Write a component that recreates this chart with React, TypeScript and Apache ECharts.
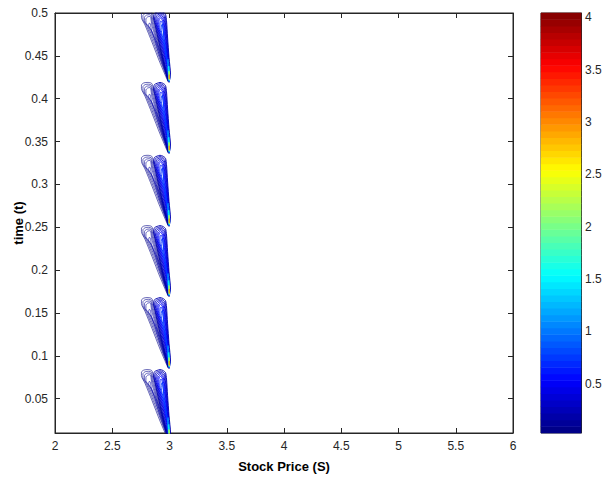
import React, { useEffect, useRef } from "react";
import * as echarts from "echarts";

// ---- data ----
const yTicks = [0.05, 0.1, 0.15, 0.2, 0.25, 0.3, 0.35, 0.4, 0.45, 0.5];
const cbTicks = [0.5, 1, 1.5, 2, 2.5, 3, 3.5, 4];
const cbMin = 0.03;
const cbMax = 4.04;

// time of the lower tip of each repeated contour block
const blockTips = [0.001, 0.085, 0.169, 0.251, 0.336, 0.419];

// contour loops of one block: [S, time above the block's tip]
const leftLevels = [0.06, 0.09, 0.12, 0.15, 0.18];
const leftLoops: number[][][] = [
  [[2.987, 0.001], [2.917, 0.023], [2.847, 0.047], [2.786, 0.067], [2.755, 0.076], [2.755, 0.08], [2.777, 0.0825], [2.812, 0.083], [2.843, 0.082], [2.856, 0.078], [2.865, 0.072], [2.891, 0.056], [2.926, 0.037], [2.961, 0.018], [2.987, 0.001]],
  [[2.987, 0.002], [2.925, 0.024], [2.858, 0.047], [2.799, 0.066], [2.768, 0.074], [2.768, 0.078], [2.788, 0.0805], [2.818, 0.081], [2.84, 0.08], [2.85, 0.076], [2.859, 0.07], [2.886, 0.055], [2.922, 0.036], [2.958, 0.018], [2.987, 0.002]],
  [[2.987, 0.003], [2.932, 0.025], [2.869, 0.047], [2.812, 0.065], [2.781, 0.072], [2.781, 0.076], [2.799, 0.0785], [2.824, 0.079], [2.838, 0.078], [2.845, 0.074], [2.853, 0.068], [2.881, 0.054], [2.918, 0.035], [2.955, 0.018], [2.987, 0.003]],
  [[2.987, 0.004], [2.939, 0.026], [2.88, 0.047], [2.825, 0.064], [2.794, 0.07], [2.794, 0.074], [2.81, 0.0765], [2.829, 0.077], [2.836, 0.076], [2.84, 0.072], [2.847, 0.066], [2.876, 0.053], [2.914, 0.034], [2.952, 0.018], [2.987, 0.004]],
  [[2.987, 0.005], [2.946, 0.027], [2.891, 0.046], [2.845, 0.06], [2.818, 0.066], [2.822, 0.069], [2.83, 0.069], [2.836, 0.066], [2.842, 0.061], [2.871, 0.05], [2.91, 0.032], [2.949, 0.017], [2.987, 0.005]],
];

const rightLevels = [0.2, 0.26, 0.32, 0.4, 0.48, 0.56, 0.65, 0.75];
const rightLoops: number[][][] = [
  [[2.996, 0.0], [2.952, 0.021], [2.908, 0.047], [2.873, 0.068], [2.86, 0.076], [2.869, 0.0805], [2.891, 0.082], [2.917, 0.083], [2.943, 0.082], [2.965, 0.0795], [2.974, 0.072], [2.983, 0.053], [2.996, 0.029], [3.009, 0.009], [2.996, 0.0]],
  [[2.996, 0.001], [2.959, 0.021], [2.916, 0.046], [2.882, 0.066], [2.869, 0.074], [2.877, 0.079], [2.896, 0.0805], [2.918, 0.0815], [2.94, 0.0805], [2.96, 0.078], [2.969, 0.071], [2.979, 0.052], [2.992, 0.029], [3.004, 0.009], [2.996, 0.001]],
  [[2.996, 0.002], [2.966, 0.021], [2.924, 0.045], [2.891, 0.064], [2.878, 0.072], [2.885, 0.0775], [2.901, 0.079], [2.919, 0.08], [2.937, 0.079], [2.955, 0.0765], [2.964, 0.07], [2.975, 0.051], [2.989, 0.029], [3.001, 0.009], [2.996, 0.002]],
  [[2.996, 0.003], [2.972, 0.021], [2.932, 0.044], [2.9, 0.062], [2.887, 0.07], [2.893, 0.076], [2.906, 0.0775], [2.92, 0.0785], [2.934, 0.0775], [2.95, 0.075], [2.959, 0.069], [2.971, 0.05], [2.986, 0.029], [2.999, 0.009], [2.996, 0.003]],
  [[2.996, 0.004], [2.976, 0.021], [2.94, 0.043], [2.909, 0.06], [2.896, 0.068], [2.901, 0.0745], [2.911, 0.076], [2.921, 0.077], [2.931, 0.076], [2.945, 0.0735], [2.954, 0.068], [2.967, 0.049], [2.983, 0.029], [2.998, 0.01], [2.996, 0.004]],
  [[2.996, 0.005], [2.979, 0.021], [2.948, 0.042], [2.918, 0.058], [2.905, 0.066], [2.909, 0.073], [2.916, 0.0745], [2.922, 0.0755], [2.928, 0.0745], [2.94, 0.072], [2.949, 0.067], [2.963, 0.048], [2.98, 0.029], [2.997, 0.01], [2.996, 0.005]],
  [[2.996, 0.006], [2.982, 0.021], [2.955, 0.041], [2.927, 0.057], [2.915, 0.064], [2.918, 0.07], [2.925, 0.072], [2.933, 0.071], [2.94, 0.066], [2.958, 0.047], [2.977, 0.029], [2.996, 0.011], [2.996, 0.006]],
  [[2.996, 0.007], [2.985, 0.021], [2.962, 0.04], [2.937, 0.055], [2.927, 0.062], [2.93, 0.067], [2.937, 0.068], [2.944, 0.065], [2.953, 0.046], [2.974, 0.029], [2.995, 0.012], [2.996, 0.007]],
];

const tipLevels = [1.1, 1.6, 2.3, 3.0];
const tipLoops: number[][][] = [
  [[2.997, 0.001], [2.988, 0.012], [2.984, 0.025], [2.988, 0.027], [2.996, 0.016], [3.002, 0.005], [2.997, 0.001]],
  [[2.998, 0.002], [2.992, 0.01], [2.99, 0.018], [2.994, 0.019], [2.999, 0.009], [2.998, 0.002]],
  [[2.998, 0.003], [2.995, 0.008], [2.996, 0.013], [2.999, 0.008], [2.998, 0.003]],
  [[2.998, 0.004], [2.997, 0.007], [2.998, 0.009], [2.999, 0.006], [2.998, 0.004]],
];

// ---- helpers ----
function jet(v: number): string {
  const x = Math.max(0, Math.min(1, (v - cbMin) / (cbMax - cbMin)));
  const c = (a: number) => Math.round(255 * Math.max(0, Math.min(1, a)));
  const r = c(Math.min(4 * x - 1.5, -4 * x + 4.5));
  const g = c(Math.min(4 * x - 0.5, -4 * x + 3.5));
  const b = c(Math.min(4 * x + 0.5, -4 * x + 2.5));
  return `rgb(${r},${g},${b})`;
}

const FONT = "'Liberation Sans', Arial, sans-serif";
const AX = "#262626";

export default function App() {
  const ref = useRef<HTMLDivElement>(null);
  useEffect(() => {
    if (!ref.current) return;
    const chart = echarts.init(ref.current, undefined, { renderer: "svg" });

    const series: any[] = [];
    const groups: [number[], number[][][], number][] = [
      [leftLevels, leftLoops, 0.6],
      [rightLevels, rightLoops, 0.9],
      [tipLevels, tipLoops, 0.9],
    ];
    blockTips.forEach((tip) => {
      groups.forEach(([levels, loops, w]) => {
        loops.forEach((loop, i) => {
          series.push({
            type: "line",
            xAxisIndex: 0,
            yAxisIndex: 0,
            data: loop.map(([s, d]) => [s, tip + d]),
            smooth: 0.25,
            symbol: "none",
            silent: true,
            clip: true,
            lineStyle: { color: jet(levels[i]), width: w },
          });
        });
      });
    });

    const nBands = 64;
    const bandIdx = Array.from({ length: nBands }, (_, i) => String(i));
    const bandData = bandIdx.map((_, i) => [0, i, cbMin + ((i + 0.5) * (cbMax - cbMin)) / nBands]);
    const heatIndex = series.length;
    series.push({
      type: "heatmap",
      xAxisIndex: 2,
      yAxisIndex: 2,
      data: bandData,
      silent: true,
      itemStyle: { borderWidth: 0 },
    });

    const stops = [0, 0.125, 0.25, 0.375, 0.5, 0.625, 0.75, 0.875, 1].map((p) =>
      jet(cbMin + p * (cbMax - cbMin))
    );

    chart.setOption({
      animation: false,
      backgroundColor: "#fff",
      textStyle: { fontFamily: FONT },
      grid: [
        { left: 55, top: 13, width: 458, height: 420, containLabel: false, outerBoundsMode: "none", show: true, borderColor: AX, borderWidth: 1, backgroundColor: "transparent" },
        { left: 541, top: 13, width: 40, height: 420, containLabel: false, outerBoundsMode: "none", show: true, borderColor: AX, borderWidth: 1, backgroundColor: "transparent" },
      ],
      visualMap: {
        show: false,
        type: "continuous",
        seriesIndex: heatIndex,
        dimension: 2,
        min: cbMin,
        max: cbMax,
        inRange: { color: stops },
      },
      xAxis: [
        {
          gridIndex: 0, type: "value", min: 2, max: 6, interval: 0.5, position: "bottom",
          axisLine: { show: true, lineStyle: { color: AX } },
          axisTick: { show: true, inside: true, length: 5, lineStyle: { color: AX } },
          axisLabel: { color: AX, fontSize: 12, margin: 7, fontFamily: FONT },
          splitLine: { show: false },
          name: "Stock Price (S)", nameLocation: "middle", nameGap: 27, nameMoveOverlap: false,
          nameTextStyle: { color: "#000", fontSize: 13, fontWeight: "bold", fontFamily: FONT },
        },
        {
          gridIndex: 0, type: "value", min: 2, max: 6, interval: 0.5, position: "top",
          axisLine: { show: true, lineStyle: { color: AX } },
          axisTick: { show: true, inside: true, length: 5, lineStyle: { color: AX } },
          axisLabel: { show: false }, splitLine: { show: false },
        },
        { gridIndex: 1, type: "category", data: [""], show: false },
      ],
      yAxis: [
        {
          gridIndex: 0, type: "value", min: 0.01, max: 0.5, position: "left",
          axisLine: { show: true, lineStyle: { color: AX } },
          axisTick: { show: true, inside: true, length: 5, customValues: yTicks, lineStyle: { color: AX } },
          axisLabel: { color: AX, fontSize: 12, margin: 7, customValues: yTicks, fontFamily: FONT },
          splitLine: { show: false },
          name: "time (t)", nameLocation: "middle", nameGap: 30, nameRotate: 90, nameMoveOverlap: false,
          nameTextStyle: { color: "#000", fontSize: 13, fontWeight: "bold", fontFamily: FONT },
        },
        {
          gridIndex: 0, type: "value", min: 0.01, max: 0.5, position: "right",
          axisLine: { show: true, lineStyle: { color: AX } },
          axisTick: { show: true, inside: true, length: 5, customValues: yTicks, lineStyle: { color: AX } },
          axisLabel: { show: false }, splitLine: { show: false },
        },
        { gridIndex: 1, type: "category", data: bandIdx, show: false },
        {
          gridIndex: 1, type: "value", min: cbMin, max: cbMax, position: "right",
          axisLine: { show: true, lineStyle: { color: AX } },
          axisTick: { show: true, inside: true, length: 4, customValues: cbTicks, lineStyle: { color: AX } },
          axisLabel: { color: AX, fontSize: 12, margin: 4, customValues: cbTicks, fontFamily: FONT },
          splitLine: { show: false },
        },
      ],
      series,
    });
    return () => chart.dispose();
  }, []);

  return (
    <div
      ref={ref}
      style={{ position: "fixed", left: 0, top: 0, width: 604, height: 480, background: "#fff" }}
    />
  );
}
